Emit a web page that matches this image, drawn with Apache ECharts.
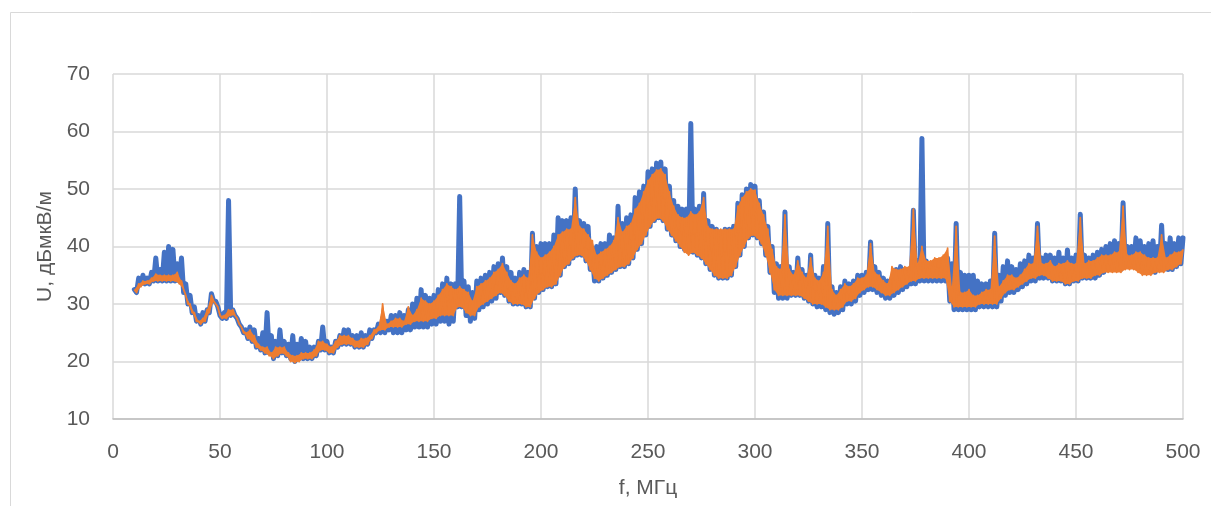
<!DOCTYPE html>
<html>
<head>
<meta charset="utf-8">
<script src="https://cdn.jsdelivr.net/npm/echarts@6/dist/echarts.min.js"></script>
<style>
  html, body { margin: 0; padding: 0; background: #ffffff; }
  #chart { width: 1211px; height: 506px; }
</style>
</head>
<body>
<div id="chart"></div>
<script>
// Frequency axis ticks (MHz) and level ticks (dBµV/m)
const xTicks = [0, 50, 100, 150, 200, 250, 300, 350, 400, 450, 500];
const yTicks = [10, 20, 30, 40, 50, 60, 70];

// Envelope readings: "upper" values at f = 10, 12, ..., 500 MHz ; "lower" values at f = 11, 13, ..., 499 MHz
const upperStartMHz = 10;
const lowerStartMHz = 11;
const stepMHz = 2;

// Series 1 (blue)
const blueUpper = [
  32.5,34.5,35,34.5,35.5,38,36,39,40,39.5,
  37,38,33.5,31.5,29.5,28,28.5,29,31.8,30.5,
  28,28.5,48,29,27.5,26,25.5,26,25.5,24,
  25,28.5,24.5,23.5,25.5,23.5,23,24.5,23,24,
  23.5,22.5,22.5,23.5,26,23.5,22.5,23.5,24.5,25.5,
  25.5,24.5,24.5,25,24.5,25.5,25.5,26.5,27.5,27,
  28,28,28.5,28,29,30,31,32.5,31.5,31,
  31.5,32.5,33.5,34.5,33.5,33.5,48.7,34,33,32,
  34,34.5,35,35.5,36.5,37,38,36.5,35.5,34.5,
  35.5,36,35.5,42.3,40,40.5,40.5,40.5,42,45,
  44.5,44.5,45,50,44.5,44,43.5,39,40,40.5,
  40.5,42,41.5,47,44,45,45.5,48.5,49.5,50.5,
  53,53.5,54.5,54.7,53.5,50.5,48,47,46.5,46.5,
  61.4,46.5,47,49.2,44.5,43.5,43,42.5,43,43,
  43.5,47.5,49,50,50.8,50.5,48,46,43.5,40,
  37,36.5,46,36.5,35.5,38,36,35,38.5,35,
  34.5,36.5,44,33,32,33,34,33.5,34,35,
  35,35.5,40.8,36.5,35.5,34.5,34,34.5,36,36.5,
  36,36,46.3,37.5,58.8,37.5,37,37,37,37.5,
  38,37,44,35.5,35,35,35,34,33.5,33.5,
  34,42.3,35,36.5,37.5,36.5,36,37,37.5,38.5,
  38,44,38,38.5,38.5,38,39,38,39.4,38,
  38.5,45.6,38.5,38,38.5,39,39.5,40,40.5,41,
  40.5,47.6,40,40,41.5,41,40,40.5,41,40,
  43.7,40.5,41.5,40.5,41.5,41.5
];
const blueLower = [
  32,33.5,33.5,33.5,34,34,34,34,34,34,
  34,32,30,28.5,27,26.5,27,28.5,30.5,29.5,
  27.5,27.5,28,28,26.5,25,24,23.5,22.5,22,
  21.5,21.5,20.5,21,21.5,21,20.5,20,20.5,20.5,
  20.5,20.5,21,22,22,21.5,21.5,22.5,23,23,
  23,22.5,22.5,22.5,23,24,25,25,25,25.5,
  25,25,25,25.5,25.5,26,26,26,26,26.5,
  26.5,27,27,26.5,27,29.5,29.5,28,27,27.5,
  29,29.5,30,30.5,31,32,31.5,30.5,30,30,
  30,29.5,29.5,31,32,32.5,33,33,33.5,35,
  36.5,37,38,38.5,38.5,37.5,36,34,34,34.5,
  35,35.5,36,36.5,36.5,37,38,39.5,40.5,42,
  43.5,44.5,45,44.5,43,42,41,40,39.5,39,
  39,38.5,38,37,36,35,34.5,34.5,34.5,35,
  36.5,38.5,40,41.5,42,41.5,40.5,38.5,35.5,32,
  31,31,31,31.5,31.5,31.5,31,30.5,30,29.5,
  29.5,29,28.5,28.2,28.5,29,30,30,30.5,31.5,
  32,32.5,32.5,32,31.5,31,31,31.5,32,32.5,
  33,33.5,33.5,34,34,34,34,34,34,34,
  30.5,29,29,29,29,29,29,29.5,29.5,29.5,
  29.5,29.5,30.5,31.5,32,32,32.5,33,33.5,34,
  34,34.5,34.5,34.5,34,34,34,33.5,33.5,34,
  34,34.5,34.5,34.5,34.5,35,35.5,36,36,36,
  36,36.5,36.5,36.5,36.5,36,35.5,35.5,35.5,36,
  36,36,36,36.5,37
];

// Series 2 (orange)
const orangeUpper = [
  32.5,33.5,34,34,34.5,35.2,35,35,35,35,
  35.5,34,31.5,30,28.5,27,27.5,29,31.5,30,
  28,28,29,29,27.5,26,25,25.5,24.5,23,
  22.5,22.5,21.5,22.5,22.5,22.5,21.5,21,21,21.5,
  21.5,21.5,22,23.5,23.5,23,22.5,23.5,24.5,24.5,
  24.5,24,23.5,24,24,24.5,25.5,26,30,26.5,
  27,27.5,27.5,27,29.5,28,29,31,30.5,30,
  30.5,31.5,32.5,33.5,33,32.5,33,32.5,32,30.5,
  33,33.5,34,34.5,35.5,36,37,35.5,34,33.5,
  34.5,35,34.5,42,39,38,38.5,39,40,42,
  42.5,43,43,48.5,43.5,43,42,41,38.5,39,
  39.5,40,41,45,42.5,43.5,44,46.5,47.5,49.5,
  51.5,52.5,53.3,53.5,52.5,49.5,47,45.5,45,45,
  46,45.5,46,48.5,43.5,43,43,43,43,43,
  43,47,48.5,49.5,50,49.8,47.5,45.5,43,39.5,
  36.5,36,45.5,36,35,37.5,35.5,34.5,38,34.5,
  34,35.5,43.5,32.5,31.5,32.5,33.5,33,33.5,34.5,
  34.5,35,40.5,35.5,35,34,33.5,36.5,36,36,
  36.5,36.5,46.5,37,40,37.5,37.5,38,38,38.5,
  39.7,33,43.5,32,32,32.5,31.5,31.5,32,32.5,
  32.5,41.8,33,34,35,35,34.5,35,36,37,
  37,43.5,37,37,37.5,36.5,37,37,37.5,37,
  37,45,37,37.5,37.5,38,38.5,38.5,38.5,39,
  39,47,38.5,38.5,39,39,38.5,38,38,38,
  42,38,38.5,39,39,39.5
];
const orangeLower = [
  32,33,33.5,33.5,34,34,34,34,34,34,
  33.5,32.5,30,28.5,27,26.5,27,28.5,30.5,29.5,
  27.5,27.5,28,28,26.5,25,24,23.5,22.5,22,
  21.5,21,20.5,21,21.5,21,20,19.8,20,20.5,
  20.5,20.5,21,22,22,21.5,21.5,22.5,23,23,
  23,22.5,22.5,22.5,23,24,25,25.5,25.5,26,
  26,26,26,26.5,26.5,27,27,27,27,27.5,
  27.5,28,28,28,28,29.5,29.5,28.5,28,28,
  29.5,30,30.5,31,31.5,32,31.5,30.5,30,30,
  30,29.5,29.5,31,32,32.5,33,33,33.5,35,
  36.5,37,38,38.5,38.5,37.5,36,34.5,34,34.5,
  35,35.5,36,36.5,36.5,37,38,39.5,40.5,42,
  43.5,44.5,45,44.5,43,42,41,40,39,38.5,
  39,38.5,38,37,36,35,34.5,34.5,34.5,35,
  36.5,38.5,40,41.5,42,41.5,40.5,38.5,35.5,32.5,
  31.5,31.5,31.5,31.5,31.5,31.5,31,30.5,30,30,
  30,29.5,29,29,29,29.5,30.5,30.5,31,32,
  32.5,33,33,32.5,32,31.5,31.5,32,32.5,33,
  33.5,34,34,34.5,34.5,34.5,34.5,34.5,34.5,34.5,
  30.5,29.5,29.5,29.5,29.5,29.5,29.5,30,30,30,
  30,30,31,32,32.5,32.5,33,33.5,34,34.5,
  34.5,35,35,34.5,34,34,34,33.5,33.5,34,
  34,34.5,34.5,34.5,35,35,35.5,35.5,35.5,35.5,
  35.5,36,36,36,35.5,35,35,35,35.5,35.5,
  35.5,36,36,36.5,37
];

// Interleave the upper and lower readings in frequency order
function merge(upper, lower) {
  const out = [];
  for (let k = 0; k < upper.length; k++) {
    out.push([upperStartMHz + k * stepMHz, upper[k]]);
    if (k < lower.length) out.push([lowerStartMHz + k * stepMHz, lower[k]]);
  }
  return out;
}

const blueData = merge(blueUpper, blueLower);
const orangeData = merge(orangeUpper, orangeLower);

// Band fill between the orange envelopes (dense trace appears as a filled band)
function orangeBand(params, api) {
  const pts = [];
  for (let k = 0; k < orangeUpper.length; k++) {
    pts.push(api.coord([upperStartMHz + k * stepMHz, orangeUpper[k]]));
  }
  for (let k = orangeLower.length - 1; k >= 0; k--) {
    pts.push(api.coord([lowerStartMHz + k * stepMHz, orangeLower[k]]));
  }
  return {
    type: 'polygon',
    shape: { points: pts },
    style: { fill: '#ED7D31', stroke: 'none' },
    silent: true
  };
}

const chart = echarts.init(document.getElementById('chart'), null, { renderer: 'canvas' });
const fontFamily = '"Liberation Sans", "DejaVu Sans", sans-serif';
const textColor = '#595959';

chart.setOption({
  animation: false,
  backgroundColor: '#ffffff',
  graphic: [{
    type: 'rect',
    shape: { x: 10.5, y: 12.5, width: 1400, height: 700 },
    style: { fill: 'none', stroke: '#D9D9D9', lineWidth: 1 },
    silent: true, z: -10
  }],
  grid: { left: 113, right: 28, top: 74, bottom: 87, containLabel: false },
  xAxis: {
    type: 'value',
    min: xTicks[0], max: xTicks[xTicks.length - 1], interval: 50,
    name: 'f, МГц', nameLocation: 'middle', nameGap: 59,
    nameTextStyle: { color: textColor, fontSize: 21, fontFamily: fontFamily },
    axisLine: { show: true, lineStyle: { color: '#BFBFBF', width: 1.5 } },
    axisTick: { show: false },
    axisLabel: { color: textColor, fontSize: 21, fontFamily: fontFamily, margin: 23 },
    splitLine: { show: true, lineStyle: { color: '#D9D9D9', width: 1.5 } }
  },
  yAxis: {
    type: 'value',
    min: yTicks[0], max: yTicks[yTicks.length - 1], interval: 10,
    name: 'U, дБмкВ/м', nameLocation: 'middle', nameGap: 57,
    nameTextStyle: { color: textColor, fontSize: 21, fontFamily: fontFamily },
    axisLine: { show: false },
    axisTick: { show: false },
    axisLabel: { color: textColor, fontSize: 21, fontFamily: fontFamily, margin: 23 },
    splitLine: { show: true, lineStyle: { color: '#D9D9D9', width: 1.5 } }
  },
  series: [
    {
      name: 'Ряд 1', type: 'line', data: blueData,
      showSymbol: false, symbol: 'none', sampling: null,
      lineStyle: { color: '#4472C4', width: 5, join: 'round', cap: 'round' },
      z: 1
    },
    {
      name: 'Ряд 2 полоса', type: 'custom', data: [0],
      renderItem: orangeBand, silent: true,
      z: 2
    },
    {
      name: 'Ряд 2', type: 'line', data: orangeData,
      showSymbol: false, symbol: 'none', sampling: null,
      lineStyle: { color: '#ED7D31', width: 1.8, join: 'round' },
      z: 3
    }
  ]
});
</script>
</body>
</html>
